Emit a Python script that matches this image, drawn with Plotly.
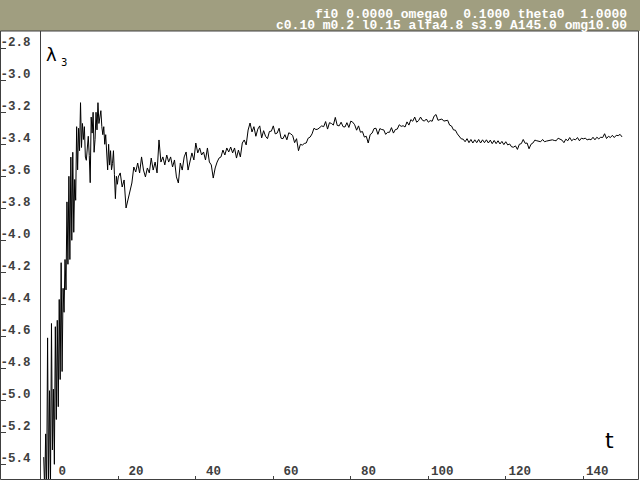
import numpy as np
import plotly.graph_objects as go

# ---------------- data ----------------
T_EARLY_START, T_EARLY_STEP = 0.75, 0.25
V_EARLY = [-5.355, -5.56, -5.21, -5.56, -4.61, -5.56, -4.94, -5.50, -4.52, -5.31,
           -4.93, -5.40, -4.54, -5.12, -4.50, -5.04, -4.37, -4.87, -4.14, -4.82,
           -4.30, -4.45, -4.12, -4.31, -3.76, -4.15, -3.60, -4.12, -3.48, -4.00,
           -3.45, -3.95, -3.62, -3.75, -3.29, -3.56, -3.30, -3.44, -3.14, -3.42,
           -3.27, -3.37, -3.29, -3.48, -3.50, -3.44, -3.35, -3.47, -3.64, -3.23,
           -3.33, -3.20, -3.45, -3.37, -3.20, -3.31, -3.14, -3.27, -3.24, -3.19,
           -3.29, -3.34, -3.29, -3.40, -3.34, -3.44, -3.56, -3.40, -3.53, -3.44,
           -3.56, -3.52, -3.44, -3.59, -3.74, -3.60, -3.65]

T_LATE_START, T_LATE_STEP = 20.0, 0.5
V_LATE = [-3.604, -3.579, -3.667, -3.623, -3.798, -3.748, -3.686, -3.642, -3.542, -3.573,
          -3.517, -3.579, -3.479, -3.561, -3.604, -3.548, -3.579, -3.486, -3.561, -3.511,
          -3.579, -3.373, -3.511, -3.479, -3.529, -3.467, -3.511, -3.479, -3.542, -3.498,
          -3.604, -3.642, -3.517, -3.561, -3.479, -3.448, -3.561, -3.498, -3.454, -3.498,
          -3.392, -3.454, -3.423, -3.467, -3.448, -3.498, -3.423, -3.511, -3.529, -3.611,
          -3.548, -3.511, -3.486, -3.479, -3.436, -3.467, -3.423, -3.448, -3.417, -3.454,
          -3.423, -3.486, -3.436, -3.479, -3.392, -3.373, -3.404, -3.311, -3.267, -3.323,
          -3.290, -3.350, -3.305, -3.285, -3.360, -3.315, -3.350, -3.365, -3.320, -3.318,
          -3.285, -3.335, -3.330, -3.300, -3.362, -3.365, -3.340, -3.372, -3.328, -3.335,
          -3.345, -3.390, -3.365, -3.440, -3.400, -3.405, -3.395, -3.392, -3.362, -3.355,
          -3.335, -3.300, -3.308, -3.305, -3.295, -3.285, -3.290, -3.258, -3.305, -3.265,
          -3.270, -3.280, -3.232, -3.282, -3.285, -3.262, -3.290, -3.292, -3.265, -3.295,
          -3.255, -3.262, -3.278, -3.312, -3.285, -3.325, -3.320, -3.355, -3.350, -3.392,
          -3.340, -3.330, -3.302, -3.300, -3.338, -3.302, -3.308, -3.310, -3.338, -3.325,
          -3.325, -3.296, -3.330, -3.308, -3.305, -3.278, -3.288, -3.284, -3.292, -3.260,
          -3.280, -3.246, -3.256, -3.230, -3.262, -3.252, -3.230, -3.250, -3.255, -3.242,
          -3.262, -3.252, -3.256, -3.224, -3.214, -3.250, -3.246, -3.242, -3.255, -3.254,
          -3.250, -3.280, -3.286, -3.310, -3.312, -3.335, -3.350, -3.366, -3.368, -3.384,
          -3.365, -3.390, -3.370, -3.392, -3.372, -3.390, -3.370, -3.392, -3.372, -3.390,
          -3.372, -3.392, -3.374, -3.396, -3.376, -3.396, -3.378, -3.398, -3.382, -3.402,
          -3.384, -3.404, -3.398, -3.416, -3.418, -3.410, -3.432, -3.400, -3.396, -3.370,
          -3.394, -3.392, -3.428, -3.400, -3.392, -3.374, -3.378, -3.382, -3.384, -3.370,
          -3.384, -3.380, -3.378, -3.372, -3.372, -3.376, -3.378, -3.362, -3.366, -3.374,
          -3.390, -3.368, -3.378, -3.358, -3.378, -3.368, -3.372, -3.358, -3.378, -3.362,
          -3.366, -3.362, -3.372, -3.368, -3.372, -3.356, -3.372, -3.356, -3.366, -3.356,
          -3.358, -3.334, -3.364, -3.350, -3.358, -3.344, -3.358, -3.344, -3.346, -3.338,
          -3.354]

X_TICKS = [0, 20, 40, 60, 80, 100, 120, 140]
X_TICK_TEXT = ["\u00a0\u00a00", "\u00a020", "\u00a040", "\u00a060", "\u00a080", "100", "120", "140"]
Y_TICKS = [-2.8, -3.0, -3.2, -3.4, -3.6, -3.8, -4.0, -4.2, -4.4, -4.6, -4.8, -5.0, -5.2, -5.4]
Y_TICK_TEXT = ["%.1f" % v for v in Y_TICKS]
X_RANGE = [-0.08, 154.25]
Y_RANGE = [-5.495, -2.692]

HEADER_LINE1 = "fi0 0.0000 omega0  0.1000 theta0  1.0000"
HEADER_LINE2 = "c0.10 m0.2 l0.15 alfa4.8 s3.9 A145.0 omg10.00"

t = np.concatenate([T_EARLY_START + T_EARLY_STEP * np.arange(len(V_EARLY)),
                    T_LATE_START + T_LATE_STEP * np.arange(len(V_LATE))])
v = np.array(V_EARLY + V_LATE)

# ---------------- layout geometry (pixels) ----------------
W, H = 640, 480
HEADER_H = 31
PL, PR, PT, PB = 40.5, 638.5, 31.0, 479.5
GRAY = "#404040"
OLIVE = "#a09e80"
MONO = "Liberation Mono"


def px(x):
    return x / W


def py(y):
    return 1 - y / H


fig = go.Figure()
fig.add_trace(go.Scatter(x=t, y=v, mode="lines",
                         line=dict(color="black", width=1),
                         hoverinfo="skip", showlegend=False))

fig.update_layout(
    width=W, height=H,
    margin=dict(l=0, r=0, t=0, b=0),
    paper_bgcolor="white", plot_bgcolor="white",
    showlegend=False,
    xaxis=dict(domain=[px(PL), px(PR)], range=X_RANGE, showgrid=False, zeroline=False,
               showline=False, tickvals=X_TICKS, ticktext=X_TICK_TEXT,
               ticks="inside", ticklen=4, tickcolor=GRAY, tickwidth=1,
               ticklabelposition="inside", ticklabelshift=14,
               ticklabeloverflow="allow",
               tickfont=dict(family=MONO, size=12.5, color=GRAY, weight="bold")),
    yaxis=dict(domain=[py(PB), py(PT)], range=Y_RANGE, anchor="free", position=0,
               showgrid=False, zeroline=False, showline=False,
               tickvals=Y_TICKS, ticktext=Y_TICK_TEXT,
               ticks="inside", ticklen=5, tickcolor=GRAY, tickwidth=1,
               ticklabelposition="inside", ticklabelshift=-7,
               ticklabeloverflow="allow",
               tickfont=dict(family=MONO, size=12.5, color=GRAY, weight="bold")),
)
try:
    fig.update_xaxes(ticklabelstandoff=-2)
    fig.update_yaxes(ticklabelstandoff=-6)
except ValueError:
    pass

# header band and frame
fig.add_shape(type="rect", xref="paper", yref="paper", x0=0, x1=1, y0=py(HEADER_H), y1=1,
              fillcolor=OLIVE, line=dict(width=0), layer="above")
fig.add_shape(type="rect", xref="paper", yref="paper", x0=px(0.5), x1=px(PR), y0=py(PB), y1=py(PT),
              line=dict(color=GRAY, width=1), layer="above")
fig.add_shape(type="line", xref="paper", yref="paper", x0=px(PL), x1=px(PL), y0=py(PB), y1=py(PT),
              line=dict(color=GRAY, width=1), layer="above")

fig.add_annotation(xref="paper", yref="paper", x=px(628), y=py(14.5), xanchor="right", yanchor="middle",
                   text=HEADER_LINE1, showarrow=False, borderpad=0,
                   font=dict(family=MONO, size=13, color="white", weight="bold"))
fig.add_annotation(xref="paper", yref="paper", x=px(628), y=py(25), xanchor="right", yanchor="middle",
                   text=HEADER_LINE2, showarrow=False, borderpad=0,
                   font=dict(family=MONO, size=13, color="white", weight="bold"))

# axis captions
fig.add_annotation(xref="paper", yref="paper", x=px(45), y=py(54), xanchor="left", yanchor="middle",
                   text="λ", showarrow=False, borderpad=0,
                   font=dict(family="DejaVu Sans", size=18, color="black"))
fig.add_annotation(xref="paper", yref="paper", x=px(60), y=py(63), xanchor="left", yanchor="middle",
                   text="3", showarrow=False, borderpad=0,
                   font=dict(family="DejaVu Sans", size=10, color="black"))
fig.add_annotation(xref="paper", yref="paper", x=px(609), y=py(440), xanchor="center", yanchor="middle",
                   text="t", showarrow=False, borderpad=0,
                   font=dict(family="DejaVu Sans", size=22, color="black"))

fig.write_html("out.html", config={"displayModeBar": False},
               post_script="document.body.style.margin='0';document.body.style.overflow='hidden';")
